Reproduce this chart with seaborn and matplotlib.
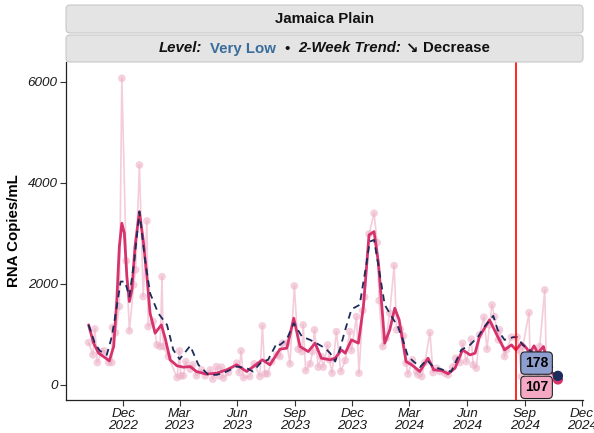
import numpy as np
import pandas as pd
import matplotlib
matplotlib.use("Agg")
import matplotlib.pyplot as plt
import matplotlib.dates as mdates
from matplotlib.patches import FancyBboxPatch
from matplotlib.transforms import IdentityTransform
import seaborn as sns

# ---------------- data ----------------
START = "2022-12-01"          # day 0 of the day offsets below
LOCATION = "Jamaica Plain"
LEVEL = "Very Low"
TREND = "Decrease"
REF_DATE = "2024-08-18"

raw_day = [-55, -48, -45, -41, -34, -30, -23, -18, -17, -12, -6, -2, 5, 10, 17, 20, 26, 32, 38, 40,
           48, 54, 59, 62, 64, 72, 86, 90, 92, 96, 100, 107, 111, 117, 125, 131, 139, 143, 149, 153,
           157, 160, 168, 181, 185, 188, 192, 202, 209, 218, 222, 226, 230, 237, 245, 250, 254, 261,
           266, 273, 279, 285, 287, 291, 298, 302, 305, 311, 316, 319, 326, 329, 333, 340, 347, 354,
           361, 364, 372, 376, 382, 385, 392, 400, 405, 408, 414, 419, 425, 432, 436, 442, 447, 451,
           454, 461, 468, 470, 476, 481, 489, 494, 500, 505, 513, 518, 525, 530, 537, 541, 547, 555,
           558, 563, 568, 575, 580, 584, 588, 592, 598, 600, 608, 611, 619, 628, 631, 635, 637, 647,
           649, 653, 661, 664, 672, 675, 685, 693]
raw_val = [837, 593, 1108, 441, 653, 673, 441, 441, 1134, 1029, 1549, 6067, 2453, 1068, 1978, 2275, 4352, 1747, 3244, 1153,
           1252, 791, 758, 2142, 758, 560, 144, 673, 178, 178, 461, 311, 396, 178, 297, 178, 297, 113, 362, 178,
           350, 133, 243, 429, 243, 673, 144, 164, 415, 164, 1167, 218, 218, 461, 593, 560, 825, 825,
           415, 1958, 706, 659, 1187, 283, 415, 659, 1088, 350, 560, 350, 791, 495, 231, 1054, 263, 481,
           1054, 679, 1351, 231, 1470, 1735, 2987, 3397, 2815, 1668, 758, 924, 1418, 2360, 1088, 1102, 969, 429,
           212, 495, 263, 198, 164, 441, 1035, 243, 330, 263, 231, 198, 350, 528, 441, 825, 461, 904,
           396, 330, 989, 1339, 706, 1187, 1583, 1351, 890, 1088, 560, 692, 944, 944, 692, 164, 758, 1430,
           231, 627, 164, 758, 1879, 164, 164, 120]

smooth_day = [-55, -47, -39, -29, -22, -15, -10, -6, -2, 2, 6, 10, 14, 19, 26, 32, 38, 43, 51, 61,
              67, 75, 86, 96, 107, 117, 133, 149, 165, 181, 197, 222, 234, 250, 261, 272, 282, 295, 306, 316,
              330, 338, 348, 354, 364, 375, 383, 392, 400, 407, 417, 425, 433, 440, 451, 460, 473, 486, 495, 508,
              518, 529, 541, 553, 561, 568, 584, 597, 608, 619, 626, 635, 643, 648, 655, 661, 670, 677, 684, 693]
smooth_val = [1187, 825, 627, 540, 475, 758, 1681, 2736, 3199, 3001, 2142, 1648, 1879, 2736, 3428, 2868, 2142, 1418, 1023, 1187,
              924, 495, 376, 350, 362, 263, 212, 231, 297, 396, 263, 495, 396, 706, 726, 1319, 758, 659, 825, 528,
              495, 528, 692, 627, 890, 825, 1549, 2967, 3033, 2408, 825, 1088, 1517, 1286, 461, 396, 263, 528, 297, 283,
              218, 330, 692, 593, 627, 956, 1286, 956, 692, 791, 692, 825, 726, 627, 772, 627, 758, 396, 231, 107]

avg_day = [-55, -45, -37, -26, -18, -10, -4, 3, 10, 18, 26, 35, 43, 56, 70, 80, 90, 107, 120, 136,
           149, 165, 181, 197, 207, 221, 231, 245, 250, 261, 272, 285, 298, 308, 322, 330, 338, 346, 354, 364,
           377, 388, 393, 400, 408, 417, 428, 438, 446, 454, 465, 473, 484, 494, 510, 523, 539, 553, 566, 576,
           590, 597, 608, 622, 628, 637, 648, 659, 669, 680, 693]
avg_val = [1187, 825, 673, 593, 956, 1549, 2044, 2044, 1747, 2473, 3428, 2473, 1814, 1418, 1187, 692, 508, 772, 396, 198,
           198, 263, 362, 330, 263, 461, 495, 825, 791, 904, 1220, 956, 890, 825, 726, 627, 461, 726, 1088, 1497,
           1583, 2408, 2835, 2868, 2275, 1583, 1351, 1153, 890, 560, 441, 350, 495, 362, 297, 263, 692, 791, 956, 1153,
           1365, 1088, 890, 944, 944, 791, 692, 560, 461, 429, 178]

tick_dates = ["2022-12-01", "2023-03-01", "2023-06-01", "2023-09-01", "2023-12-01",
              "2024-03-01", "2024-06-01", "2024-09-01", "2024-12-01"]
tick_labels = ["Dec\n2022", "Mar\n2023", "Jun\n2023", "Sep\n2023", "Dec\n2023",
               "Mar\n2024", "Jun\n2024", "Sep\n2024", "Dec\n2024"]
y_ticks = [0, 2000, 4000, 6000]

# ---------------- build frames ----------------
start = pd.Timestamp(START)
def frame(days, vals):
    return pd.DataFrame({"date": start + pd.to_timedelta(days, unit="D"), "value": vals})

raw = frame(raw_day, raw_val)
smooth = frame(smooth_day, smooth_val)
avg = frame(avg_day, avg_val)

# ---------------- style ----------------
sns.set_theme(style="ticks")
plt.rcParams['font.family'] = ['Liberation Sans', 'DejaVu Sans']

W, H = 594, 433
fig = plt.figure(figsize=(W / 100, H / 100), dpi=100)
fig.patch.set_facecolor("white")
ax = fig.add_axes([66 / W, (H - 400) / H, (583 - 66) / W, (400 - 62) / H])

PINK_PT = "#EDB0C7"
PINK_LN = "#F5CCDB"
CRIMSON = "#D6336C"
NAVY = "#1C2B5C"

sns.lineplot(data=raw, x="date", y="value", ax=ax, color=PINK_LN, lw=1.2, zorder=1)
sns.scatterplot(data=raw, x="date", y="value", ax=ax, color=PINK_PT, s=30, alpha=0.6,
                edgecolor="none", zorder=2)
sns.lineplot(data=smooth, x="date", y="value", ax=ax, color=CRIMSON, lw=2.0, zorder=3)
sns.lineplot(data=avg, x="date", y="value", ax=ax, color=NAVY, lw=1.3,
             linestyle=(0, (3.8, 2.8)), zorder=4)

ax.axvline(pd.Timestamp(REF_DATE), color="red", lw=1.2, zorder=5)

# end points
last_date = smooth["date"].iloc[-1]
ax.scatter([last_date], [smooth_val[-1]], s=55, color=CRIMSON, zorder=6, edgecolor="none")
ax.scatter([avg["date"].iloc[-1]], [avg_val[-1]], s=55, color=NAVY, zorder=7, edgecolor="none")

lab_x = start + pd.Timedelta(days=659)
box_kw = dict(boxstyle="round,pad=0.3,rounding_size=0.3", ec="#222222", lw=0.8)
ax.annotate(f"{avg_val[-1]}", xy=(avg["date"].iloc[-1], avg_val[-1]), xytext=(lab_x, 430),
            ha="center", va="center", fontsize=10, fontweight="bold", color="black", zorder=8,
            bbox=dict(fc="#8E9FCF", **box_kw),
            arrowprops=dict(arrowstyle="-", color="#222222", lw=0.8, shrinkA=0, shrinkB=3))
ax.text(lab_x, -50, f"{smooth_val[-1]}", ha="center", va="center", fontsize=10, fontweight="bold",
        color="black", zorder=8, bbox=dict(fc="#F4A8C4", **box_kw))

# axes
ax.set_xlim(pd.Timestamp("2022-09-01"), pd.Timestamp("2024-12-03"))
ax.set_ylim(-300, 6390)
ax.set_xticks(pd.to_datetime(tick_dates))
ax.set_xticklabels(tick_labels, fontstyle="italic", fontsize=9.7, color="#1a1a1a", linespacing=1.0)
ax.set_yticks(y_ticks)
ax.set_yticklabels([str(v) for v in y_ticks], fontstyle="italic", fontsize=9.7, color="#1a1a1a")
ax.set_xlabel("")
ax.set_ylabel("RNA Copies/mL", fontweight="bold", fontsize=10.8, color="black", labelpad=5)
ax.tick_params(axis="both", direction="out", length=4, width=0.8, color="#333333", pad=2,
               bottom=True, left=True)
for s in ["top", "right"]:
    ax.spines[s].set_visible(False)
for s in ["left", "bottom"]:
    ax.spines[s].set_color("#222222")
    ax.spines[s].set_linewidth(0.9)
ax.set_facecolor("white")

# ---------------- facet strips ----------------
ident = IdentityTransform()
def strip(top_px, bot_px):
    p = FancyBboxPatch((66, H - bot_px), 583 - 66, bot_px - top_px,
                       boxstyle="round,pad=0,rounding_size=4", transform=ident,
                       fc="#E4E4E4", ec="#C9C9C9", lw=0.8, figure=fig)
    fig.patches.append(p)

strip(5, 33)
strip(35, 62)
cx = (66 + 583) / 2
fig.text(cx, H - 19, LOCATION, transform=ident, ha="center", va="center",
         fontsize=10.8, fontweight="bold", color="#111111")

pieces = [
    ("Level:", dict(fontweight="bold", fontstyle="italic", color="#111111"), 8),
    (LEVEL, dict(fontweight="bold", color="#3A6D9A"), 8),
    ("\u2022", dict(color="#111111"), 9),
    ("2-Week Trend:", dict(fontweight="bold", fontstyle="italic", color="#111111"), 4),
    ("\u2198", dict(fontweight="bold", color="#111111", family=["DejaVu Sans"]), 5),
    (TREND, dict(fontweight="bold", color="#111111"), 0),
]
renderer = fig.canvas.get_renderer()
texts, widths = [], []
for s, kw, gap in pieces:
    t = fig.text(0, H - 48.5, s, transform=ident, ha="left", va="center", fontsize=10.8, **kw)
    texts.append(t)
    widths.append(t.get_window_extent(renderer).width)
total = sum(widths) + sum(p[2] for p in pieces)
x = cx - total / 2
for t, w, p in zip(texts, widths, pieces):
    t.set_x(x)
    x += w + p[2]

fig.savefig("out.png", dpi=100, facecolor="white")
